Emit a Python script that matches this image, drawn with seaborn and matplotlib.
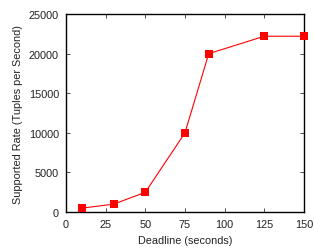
import seaborn as sns
import matplotlib.pyplot as plt
import pandas as pd

# datos
deadline = [10, 30, 50, 75, 90, 125, 150]
rate = [500, 1000, 2500, 10000, 20000, 22200, 22200]

df = pd.DataFrame({"deadline": deadline, "rate": rate})

sns.set_style("ticks")
plt.rcParams['font.family'] = ['Liberation Sans', 'DejaVu Sans']

fig, ax = plt.subplots(figsize=(3.14, 2.51), dpi=100)
fig.subplots_adjust(left=0.21, right=0.968, top=0.94, bottom=0.151)

sns.lineplot(data=df, x="deadline", y="rate", color="red", marker="s",
             markersize=6, markeredgewidth=0, linewidth=0.8, ax=ax,
             clip_on=False, zorder=5)

ax.set_xlim(0, 150)
ax.set_ylim(0, 25000)
ax.set_xticks([0, 25, 50, 75, 100, 125, 150])
ax.set_yticks([0, 5000, 10000, 15000, 20000, 25000])
ax.tick_params(direction="in", length=3, width=0.6, labelsize=7.8,
               top=True, right=True, pad=5, colors="#333333", labelcolor="#222222")
for s in ax.spines.values():
    s.set_linewidth(1)
    s.set_color("black")

ax.set_xlabel("Deadline (seconds)", fontsize=7.8, color="#222222")
ax.set_ylabel("Supported Rate (Tuples per Second)", fontsize=7.8, color="#222222")

plt.savefig("out.png", dpi=100)
